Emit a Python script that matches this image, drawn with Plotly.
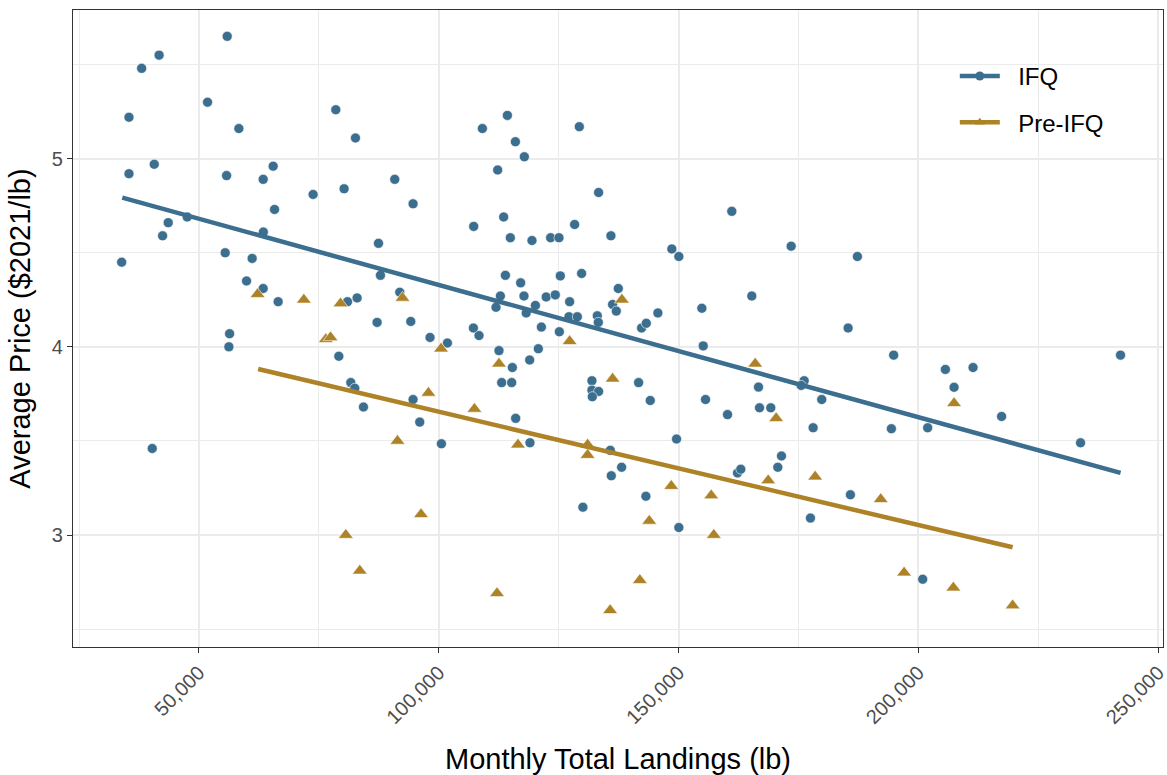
import plotly.graph_objects as go

# IFQ period: monthly total landings (lb) and average price ($2021/lb)
ifq_landings = [
    55900, 41700, 38060, 35420, 51800, 58330, 78540, 82640, 35420, 40690,
    55770, 63400, 65480, 73810, 80270, 65770, 43600, 47560, 42430, 63440,
    33900, 55480, 61100, 59930, 63400, 66520, 80980, 82980, 56400, 56250,
    40270, 79170, 81670, 82500, 84310, 114310, 109100, 129310, 115980, 117850,
    112290, 90830, 94650, 133330, 107290, 113540, 114930, 119440, 123330, 125070,
    128330, 135900, 87440, 87850, 91880, 94170, 87150, 113900, 117080, 112850,
    117770, 111940, 120150, 118230, 122400, 124300, 125350, 129790, 127290, 127150,
    128900, 133060, 133270, 137440, 136250, 137020, 145690, 98190, 101810, 107230,
    108400, 121400, 125150, 142290, 143270, 112560, 115350, 113125, 115210, 118960,
    120770, 131940, 131940, 133330, 132020, 141670, 144100, 94650, 96040, 100560,
    116040, 119020, 135770, 138130, 135980, 143190, 130060, 154860, 165270, 155140,
    185350, 194850, 205630, 176190, 175560, 166670, 155625, 160210, 166880, 169230,
    179850, 178060, 194375, 201940, 149580, 171460, 170690, 162290, 162980, 185830,
    177500, 150060, 200900, 211400, 207440, 217350, 233810, 242150, 161100, 148600,
    150060, 173480, 187290,
]
ifq_price = [
    5.65, 5.55, 5.48, 5.22, 5.30, 5.16, 5.26, 5.11, 4.92, 4.97,
    4.91, 4.89, 4.96, 4.81, 4.84, 4.73, 4.66, 4.69, 4.59, 4.61,
    4.45, 4.50, 4.47, 4.35, 4.31, 4.24, 4.24, 4.26, 4.07, 4.00,
    3.46, 3.95, 3.81, 3.78, 3.68, 5.23, 5.16, 5.17, 5.09, 5.01,
    4.94, 4.89, 4.76, 4.82, 4.64, 4.69, 4.58, 4.565, 4.58, 4.58,
    4.65, 4.59, 4.55, 4.38, 4.29, 4.135, 4.13, 4.38, 4.34, 4.27,
    4.27, 4.21, 4.22, 4.18, 4.265, 4.276, 4.377, 4.39, 4.24, 4.16,
    4.16, 4.165, 4.13, 4.31, 4.225, 4.19, 4.18, 4.05, 4.02, 4.10,
    4.06, 4.105, 4.08, 4.10, 4.125, 3.98, 3.89, 3.81, 3.81, 3.93,
    3.99, 3.82, 3.77, 3.763, 3.735, 3.81, 3.715, 3.72, 3.60, 3.485,
    3.62, 3.49, 3.45, 3.36, 3.315, 3.206, 3.148, 4.205, 4.27, 4.005,
    4.10, 3.956, 3.88, 3.82, 3.795, 3.786, 3.72, 3.64, 3.676, 3.676,
    3.72, 3.57, 3.565, 3.57, 3.51, 3.42, 3.36, 3.33, 3.35, 3.214,
    3.09, 3.04, 2.765, 3.89, 3.785, 3.63, 3.49, 3.956, 4.72, 4.52,
    4.48, 4.535, 4.48,
]

# Pre-IFQ period
pre_landings = [
    62230, 71875, 79520, 76460, 77440, 80625, 83540, 92440, 138190, 100480,
    112560, 127290, 136250, 97850, 107440, 91400, 116520, 131040, 131040, 143890,
    96310, 112150, 141930, 135730, 165980, 170350, 168690, 178480, 148480, 156810,
    192150, 157350, 197020, 207440, 207290, 219650,
]
pre_price = [
    4.28, 4.25, 4.23, 4.04, 4.05, 3.00, 2.81, 4.26, 4.25, 3.99,
    3.91, 4.03, 3.83, 3.755, 3.67, 3.50, 3.48, 3.48, 3.425, 3.075,
    3.11, 2.69, 2.76, 2.60, 3.91, 3.62, 3.29, 3.31, 3.26, 3.21,
    3.19, 3.00, 2.80, 3.70, 2.72, 2.625,
]

# linear fit lines as drawn (end points)
ifq_fit_x = [34020, 242150]
ifq_fit_y = [4.793, 3.33]
pre_fit_x = [62350, 219650]
pre_fit_y = [3.882, 2.935]

BLUE = "#3B6E8F"
GOLD = "#AE8226"
FONT = "Liberation Sans, Arial, sans-serif"

fig = go.Figure()

fig.add_trace(go.Scatter(
    x=ifq_landings, y=ifq_price, mode="markers", showlegend=False,
    marker=dict(symbol="circle", size=10, color=BLUE, line=dict(width=0.6, color="white")),
))
fig.add_trace(go.Scatter(
    x=pre_landings, y=pre_price, mode="markers", showlegend=False,
    marker=dict(symbol="triangle-up", size=13, color=GOLD, line=dict(width=0.6, color="white")),
))
fig.add_trace(go.Scatter(
    x=ifq_fit_x, y=ifq_fit_y, mode="lines", showlegend=False,
    line=dict(color=BLUE, width=4.5),
))
fig.add_trace(go.Scatter(
    x=pre_fit_x, y=pre_fit_y, mode="lines", showlegend=False,
    line=dict(color=GOLD, width=4.5),
))

# legend keys (line + point, like ggplot)
for name, color, sym, grp in [("IFQ", BLUE, "circle", "a"), ("Pre-IFQ", GOLD, "triangle-up", "b")]:
    fig.add_trace(go.Scatter(
        x=[None], y=[None], mode="lines+markers", name="\u00a0\u00a0" + name, legendgroup=grp,
        line=dict(color=color, width=4.5),
        marker=dict(symbol=sym, size=9, color=color),
    ))

grid = "#EBEBEB"
axis_common = dict(
    showline=True, linecolor="#333333", linewidth=1.2, mirror=True,
    ticks="outside", ticklen=5, tickcolor="#333333", tickwidth=1.2,
    showgrid=True, gridcolor=grid, gridwidth=2, zeroline=False, automargin=False,
    tickfont=dict(size=20, color="#4D4D4D", family=FONT), ticklabeloverflow="allow",
)

fig.update_layout(
    width=1167, height=775,
    margin=dict(l=73, r=4, t=10, b=128),
    plot_bgcolor="white", paper_bgcolor="white",
    font=dict(family=FONT, color="black"),
    xaxis=dict(
        range=[23750, 251000], tick0=0, dtick=50000, tickformat=",d", tickangle=-45,
        minor=dict(dtick=25000, showgrid=True, gridcolor=grid, gridwidth=1),
        title=dict(text="Monthly Total Landings (lb)", font=dict(size=29, family=FONT), standoff=25),
        **axis_common,
    ),
    yaxis=dict(
        range=[2.405, 5.79], tick0=0, dtick=1,
        minor=dict(dtick=0.5, showgrid=True, gridcolor=grid, gridwidth=1),
        title=dict(text="Average Price ($2021/lb)", font=dict(size=29, family=FONT), standoff=12),
        **axis_common,
    ),
    legend=dict(
        x=0.809, y=0.931, xanchor="left", yanchor="top",
        bgcolor="rgba(0,0,0,0)", borderwidth=0,
        font=dict(size=24, family=FONT, color="black"),
        tracegroupgap=12, itemwidth=40,
    ),
    # white key box behind the legend, over the grid
    shapes=[dict(
        type="rect", xref="paper", yref="paper", layer="between",
        x0=(938 - 73) / 1090, x1=(1118 - 73) / 1090,
        y0=1 - (163 - 10) / 637, y1=1 - (22 - 10) / 637,
        fillcolor="white", line=dict(width=0),
    )],
)

# drop the page's default body margin so the figure sits at the top-left corner
fig.write_html(
    "out.html",
    config={"displayModeBar": False},
    post_script="document.body.style.margin='0';",
)
